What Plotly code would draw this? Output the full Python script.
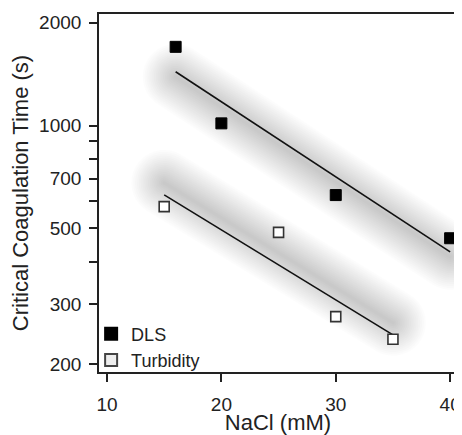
import numpy as np
import plotly.graph_objects as go

# ---- data ----
dls_x = [16, 20, 30, 40]
dls_y = [1700, 1015, 626, 468]
turb_x = [15, 25, 30, 35]
turb_y = [579, 487, 276, 237]

# fitted lines (end points)
dls_fit_x = [16, 40]
dls_fit_y = [1437, 427]
turb_fit_x = [15, 35]
turb_fit_y = [627, 244]

y_tickvals = [200, 300, 400, 500, 600, 700, 800, 900, 1000, 2000]
y_ticktext = ["200", "300", "", "500", "", "700", "", "", "1000", "2000"]
x_tickvals = [10, 20, 30, 40]

FONT = "Liberation Sans, Arial, sans-serif"
INK = "#222222"

# page body has an 8px margin, so the figure is sized/offset to compensate
W, H = 454, 427
ML, MR, MT, MB = 91, 5, 6, 63
XR = [9.3, 40.6]
YR = [np.log10(190), np.log10(2121)]
PW, PH = W - ML - MR, H - MT - MB

fig = go.Figure()


def to_px(x, y):
    px = (np.asarray(x) - XR[0]) / (XR[1] - XR[0]) * PW
    py = (np.log10(np.asarray(y)) - YR[0]) / (YR[1] - YR[0]) * PH
    return px, py


def from_px(px, py):
    x = XR[0] + np.asarray(px) / PW * (XR[1] - XR[0])
    y = 10 ** (YR[0] + np.asarray(py) / PH * (YR[1] - YR[0]))
    return x, y


def shadow_layers(xs, ys, drop=5, n=18, rmax=33, alpha=0.0105):
    """Soft gray capsule-shaped glow along a fitted line."""
    px, py = to_px(xs, ys)
    py = py - drop
    d = np.array([px[1] - px[0], py[1] - py[0]])
    ang = np.arctan2(d[1], d[0])
    for k in range(n):
        r = rmax * (k + 1) / n
        t1 = np.linspace(ang + np.pi / 2, ang + 3 * np.pi / 2, 20)
        t2 = np.linspace(ang - np.pi / 2, ang + np.pi / 2, 20)
        bx = np.concatenate([px[0] + r * np.cos(t1), px[1] + r * np.cos(t2)])
        by = np.concatenate([py[0] + r * np.sin(t1), py[1] + r * np.sin(t2)])
        bx = np.append(bx, bx[0])
        by = np.append(by, by[0])
        sx, sy = from_px(bx, by)
        fig.add_trace(go.Scatter(
            x=sx, y=sy, mode="lines", fill="toself",
            fillcolor=f"rgba(0,0,0,{alpha})", line=dict(width=0),
            showlegend=False, hoverinfo="skip"))


shadow_layers(dls_fit_x, dls_fit_y, drop=5)
shadow_layers(turb_fit_x, turb_fit_y, drop=-12)

for fx, fy in [(dls_fit_x, dls_fit_y), (turb_fit_x, turb_fit_y)]:
    fig.add_trace(go.Scatter(x=fx, y=fy, mode="lines",
                             line=dict(color="#111111", width=1.6),
                             showlegend=False, hoverinfo="skip"))

fig.add_trace(go.Scatter(
    x=dls_x, y=dls_y, mode="markers", showlegend=False,
    marker=dict(symbol="square", size=11, color="#000000",
                line=dict(color="#000000", width=1))))
fig.add_trace(go.Scatter(
    x=turb_x, y=turb_y, mode="markers", showlegend=False,
    marker=dict(symbol="square", size=10, color="#ffffff",
                line=dict(color="#333333", width=1.6))))

# legend entries
fig.add_trace(go.Scatter(
    x=[None], y=[None], mode="markers", name="DLS",
    marker=dict(symbol="square", size=10, color="#000000",
                line=dict(color="#000000", width=1))))
fig.add_trace(go.Scatter(
    x=[None], y=[None], mode="markers", name="Turbidity",
    marker=dict(symbol="square", size=10, color="#eeeeee",
                line=dict(color="#444444", width=1.3))))

fig.update_layout(
    width=W, height=H,
    margin=dict(l=ML, r=MR, t=MT, b=MB, autoexpand=False),
    paper_bgcolor="white", plot_bgcolor="white",
    font=dict(family=FONT, size=18, color=INK),
    legend=dict(x=-0.022, y=-0.018, xanchor="left", yanchor="bottom",
                bgcolor="rgba(0,0,0,0)", font=dict(size=18),
                tracegroupgap=0, itemsizing="constant"),
    xaxis=dict(range=XR, tickvals=x_tickvals, automargin=False,
               ticks="outside", ticklen=8, tickwidth=1.5, tickcolor=INK,
               showline=True, linecolor=INK, linewidth=1.6, mirror=True,
               showgrid=False, zeroline=False, ticklabelstandoff=6,
               tickfont=dict(size=19),
               title=dict(text="NaCl (mM)", standoff=2)),
    yaxis=dict(type="log", range=YR, automargin=False,
               tickvals=y_tickvals, ticktext=y_ticktext,
               ticks="outside", ticklen=8, tickwidth=1.5, tickcolor=INK,
               showline=True, linecolor=INK, linewidth=1.6, mirror=True,
               showgrid=False, zeroline=False, ticklabelstandoff=4,
               tickfont=dict(size=19),
               title=dict(text="Critical Coagulation Time (s)", standoff=8)),
)

fig.write_html("out.html")
